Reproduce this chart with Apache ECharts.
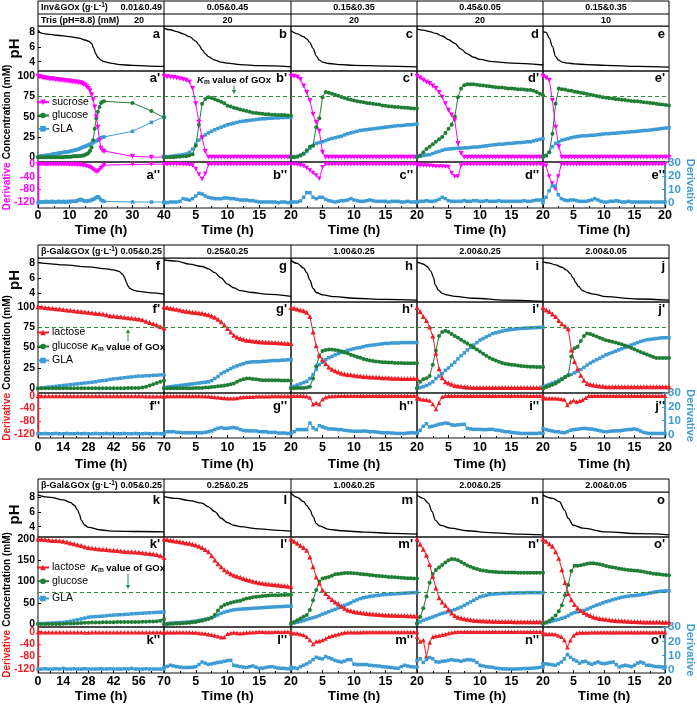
<!DOCTYPE html>
<html><head><meta charset="utf-8">
<script src="https://cdn.jsdelivr.net/npm/echarts@6/dist/echarts.min.js"></script>
<style>html,body{margin:0;padding:0;background:#fff}#c{width:697px;height:705px}</style>
</head><body><div id="c"></div>
<script>
// ---------- time grids ----------
const T20 = [0,0.5,1,1.5,2,2.5,3,3.5,4,4.5, 5,5.5,6,6.5,7,7.5,8,8.5,9,9.5, 10,10.5,11,11.5,12,12.5,13,13.5,14,14.5, 15,15.5,16,16.5,17,17.5,18,18.5,19,19.5, 20];
const TA = [0,0.5,1,1.5,2,2.5,3,3.5,4,4.5, 5,5.5,6,6.5,7,7.5,8,8.5,9,9.5, 10,10.5,11,11.5,12,12.5,13,13.5,14,14.5, 15,15.5,16,16.5,17,17.5,18,18.5,19,19.5, 20,20.5,21, 30,36,40];
const T70 = [0,2,4,6,8,10,12,14,16,18, 20,22,24,26,28,30,32,34,36,38, 40,42,44,46,48,50,52,54,56,58, 60,62,64,66,68,70];

// ---------- header texts ----------
const HDR1_LABEL = 'Inv&GOx (g·L{sup|-1})';
const HDR1_TRIS_LABEL = 'Tris (pH=8.8) (mM)';
const HDR1_ENZ = ['0.01&0.49','0.05&0.45','0.15&0.35','0.45&0.05','0.15&0.35'];
const HDR1_TRIS = ['20','20','20','20','10'];
const HDR23_LABEL = 'β-Gal&GOx (g·L{sup|-1})';
const HDR2_ENZ = ['0.05&0.25','0.25&0.25','1.00&0.25','2.00&0.25','2.00&0.05'];
const HDR3_ENZ = ['0.05&0.25','0.25&0.25','1.00&0.25','2.00&0.25','2.00&0.05'];
const LETTERS = [['a','b','c','d','e'],['f','g','h','i','j'],['k','l','m','n','o']];
const PH_TICKS = [4,6,8];
const CONC_TICKS_100 = [0,25,50,75,100];
const CONC_TICKS_200 = [0,50,100,150,200];
const DER_TICKS = [-120,-80,-40,0];
const DERR_TICKS = [0,10,20,30];
const KM_VALUE = 75;

// ---------- panel a ----------
const PH_A = [[0,8.3],[1,7.9],[3,7.75],[6,7.6],[10,7.4],[13,7.2],[15,6.95],[16,6.8],[17,6.5],[17.7,5.8],[18.3,5.1],[19,4.6],[20,4.2],[21,4.0],[23,3.8],[26,3.6],[30,3.5],[35,3.4],[40,3.35]];
const SUC_A = [100,99.5,99,98.5,98,98,97.5,97,97,96.5, 96.5,96,96,95.5,95.5,95,95,94.5,94.5,94, 94,93.5,93.5,93,93,92.5,92,92,91,90, 89,87,85,82,77,71,62,50,37,21, 11,8,7, 1,0,0];
const GLU_A = [0,0,0,0,0,0,0,0,0,0, 0,0,0,0,0,0,0,0.5,0.5,0.5, 0.5,0.5,1,1,1,1,1.5,1.5,2,2, 3,4,5,8,12,21,35,48,56,62, 67,68.5,69, 67,57,49];
const GLA_A = [0.5,1,1.5,1.5,2,2,2.5,3,3,3.5, 4,4,4.5,5,5,5.5,6,6,6.5,6.5, 7,7.5,8,8.5,9,9.5,10,11,12,12.5, 13.5,14,15,16,17,18,19,20,21,22.5, 24,24.5,25, 32,43,50];
const DSUC_A = [0,0,0,0,0,0,0,0,0,0, 0,0,0,0,0,0,0,0,0,0, -1,-1,-1,-1,-1,-2,-2,-2,-3,-4, -5,-6,-8,-10,-13,-17,-21,-24,-23,-18, -13,-8,-3, -1,0,0];
const DGLA_A = [0,0.5,0.5,0.5,0.5,1,0.5,0.5,0.5,1, 0.5,0.5,0.5,1,0.5,0.5,1,0.5,0.5,1, 0.5,1,1,1,1,1.5,2,2.5,2,1.5, 1,1,1.5,1.5,2,2.5,3,4,4.5,3.5, 2,1.5,1, 0.5,0.5,0.5];

// ---------- panel b ----------
const PH_B = [[0,8.55],[1,8.35],[2,8.1],[3,7.8],[4,7.4],[5,6.8],[5.5,6.3],[6,5.6],[6.5,5.1],[7,4.7],[8,4.2],[9,3.95],[10,3.8],[12,3.6],[15,3.45],[20,3.3]];
const SUC_B = [100,99.5,99,98.5,98,97,96,95,93,85, 66,43,24,7,0,0,0,0,0,0, 0,0,0,0,0,0,0,0,0,0, 0,0,0,0,0,0,0,0,0,0, 0];
const GLU_B = [0,0,0,0,0.5,0.5,1,1,2,3.5, 14,40,66,72,74,73,71.5,70,68.5,66.5, 63.5,62.5,61,60,59,58,57,56,55,54.5, 54,53.5,53,53,52.5,52.5,52,52,52,51.5, 51.5];
const GLA_B = [0,0.5,1,1.5,2,2.5,3,4,6,10, 16,21,25,27.5,30,32,34,35.5,37,38.5, 40,41,42,43,44,44.5,45,45.5,46,46.5, 47,47.5,47.5,48,48,48.5,48.5,49,49,49, 49.5];
const DSUC_B = [0,0,0,0,0,0,-1,-1,-2,-4, -15,-33,-48,-30,-2,0,0,0,0,0, 0,0,0,0,0,0,0,0,0,0, 0,0,0,0,0,0,0,0,0,0, 0];
const DGLA_B = [0,0,0.5,0.5,0.5,1,3,2.5,2,3, 5,7,6.5,5,4,3.5,3,3,3,3.5, 3.5,3,3,2.5,2,2,2,1.5,1.5,1, 0.5,0.5,0.5,0.5,0.5,0.5,0,0.5,0.5,0, 0];

// ---------- panel c ----------
const PH_C = [[0,8.2],[1,7.8],[2,7.4],[2.5,7.1],[3,6.6],[3.5,5.8],[4,4.8],[4.5,4.2],[5,3.95],[6,3.75],[8,3.6],[10,3.5],[15,3.4],[20,3.3]];
const SUC_C = [100,100,99,96,88,80,70,53,43,32, 6,0,0,0,0,0,0,0,0,0, 0,0,0,0,0,0,0,0,0,0, 0,0,0,0,0,0,0,0,0,0, 0];
const GLU_C = [0,0,0.5,2,4.5,8.5,13,14.5,37,48, 74,80.5,79.5,78.5,77,76,74.5,73,72,71, 70,69,68.5,68,67,66.5,66,65.5,65,64, 63.5,63,62.5,62,62,61.5,61,61,60.5,60, 60];
const GLA_C = [0,0.5,1,2.5,4,7,11,14,17,18, 19,20.5,22,23,24,25,26,27.5,29,30, 31,32,33,33.5,34,34.5,35,35.5,36,36.5, 37,37.5,38,38.5,39,39,39.5,40,40,40.5, 41];
const DSUC_C = [0,0,-1,-3,-6,-12,-20,-28,-36,-46, -10,0,0,0,0,0,0,0,0,0, 0,0,0,0,0,0,0,0,0,0, 0,0,0,0,0,0,0,0,0,0, 0];
const DGLA_C = [0.5,0.5,0.5,1.3,4,7.5,7.5,4,3,4, 4,2.5,1.5,1,0.5,1,1.5,1.5,2,3, 2,1.5,1,1,1.5,2,1.5,1,1,1, 1,0.5,1,1,1,0.5,0.5,1,0.5,0.5, 0.5];

// ---------- panel d ----------
const PH_D = [[0,8.45],[1,8.3],[2,8.1],[3,7.85],[4,7.5],[5,7.0],[6,6.5],[7,5.7],[8,5.05],[9,4.6],[10,4.3],[12,4.0],[15,3.8],[20,3.55]];
const SUC_D = [100,98,95,93,91,88,85,80,74,66, 58,52,46,17,4.5,0,0,0,0,0, 0,0,0,0,0,0,0,0,0,0, 0,0,0,0,0,0,0,0,0,0, 0];
const GLU_D = [0,2,6,10,13,16,19,22,25,30, 35,40,50,74,85,89,90,90,90,89.5, 89,88.5,88,87.5,87,86.5,86,86,85.5,85, 85,84.5,84,84,83.5,83,83,82,80.5,78.5, 76.5];
const GLA_D = [0.5,1,2,2.5,3,4.5,6,7,8.5,9.5, 10,10.5,10.7,11,11,11.5,11.5,12,12.5,12.5, 13,13.5,14,14.5,15,15.5,16,16,16.5,17, 17,17.5,18,18,18.5,19,19,20,21,22, 23];
const DSUC_D = [-4,-4,-4.5,-4.5,-5,-6,-7,-7,-7,-8, -9,-29,-39,-39,-4,0,0,0,0,0, 0,0,0,0,0,0,0,0,0,0, 0,0,0,0,0,0,0,0,0,0, 0];
const DGLA_D = [0.5,1,1,1.5,1,1,1.5,2.5,4,3, 1.5,1,1,1,1,1.5,1,1,1.5,1.5, 1,1,1.5,1,1,1,1.5,1,1,1, 1,1,1,1,1.5,1,1,1.5,2,2, 2];

// ---------- panel e ----------
const PH_E = [[0,8.1],[0.5,8.0],[1,7.2],[1.5,6.05],[2,4.7],[2.5,4.2],[3,3.95],[4,3.8],[5,3.7],[7,3.6],[10,3.5],[15,3.35],[20,3.25]];
const SUC_E = [100,98,95,70,37,13,0,0,0,0, 0,0,0,0,0,0,0,0,0,0, 0,0,0,0,0,0,0,0,0,0, 0,0,0,0,0,0,0,0,0,0, 0];
const GLU_E = [0.5,2,6,29,66,85,84,83.5,82.5,82, 81,80.5,79.5,79,78,77,76.5,75.5,75,74, 73.5,73,72.5,72,71.5,71,70.5,70,69.5,69, 69,68.5,68,67.5,67,66.5,66,65.5,65,64.5, 64];
const GLA_E = [0.5,2,6,13,17,19,21,22,23,24, 25,25.5,26,26.5,26.5,27,27,27.5,28,28.5, 29,29,29.5,29.5,30,30.5,30.5,31,31.5,31.5, 32,32.5,33,33,33.5,34,34.5,35,35.5,36, 36.5];
const DSUC_E = [-4,-5,-39,-61,-79,-39,0,0,0,0, 0,0,0,0,0,0,0,0,0,0, 0,0,0,0,0,0,0,0,0,0, 0,0,0,0,0,0,0,0,0,0, 0];
const DGLA_E = [0,4,9,12.5,12.5,6,3,2,1.5,2, 2,1.5,1,1,1,1.5,2,3,2,1, 0.5,0.5,1,1,1.5,1,0.5,0.5,1,0.5, 0.5,0.5,0.5,0.5,0.5,0.5,0.5,0.5,0.5,0.5, 0.5];

// ---------- panel f ----------
const PH_F = [[0,8.0],[7,7.85],[14,7.7],[28,7.45],[38,7.2],[42,7.05],[45,6.85],[47,6.5],[48,6.1],[49,5.5],[50,4.95],[51,4.65],[53,4.4],[56,4.25],[63,4.05],[70,3.9]];
const LAC_F = [100,99.5,99,98.5,98,97.5,97,96.5,96,95.5, 95,94.5,94,93.5,93,92.5,92,91.5,91,90, 89,88.5,88,87.5,87,86.5,86,85.5,85,84, 82,80.5,79,77.5,75.5,74];
const GLU_F = [0,0,0,0,0,0,0,0,0,0, 0,0,0,0,0,0,0,0,0,0, 0,0,0,0,0,0.5,0.5,0.5,0.5,1, 2,3.5,5,6.5,8,9.5];
const GLA_F = [0,0.5,1,1.5,2,2.5,3,3.5,4,4.5, 5,5.5,6,6.5,7,7.5,8,9,9.5,10, 11,11.5,12,12.5,13,13.5,14,14.5,15,15, 15.5,15.5,16,16,16.5,16.5];
const DLAC_F = [-1,-1,-1,-1,-1,-1,-1,-1,-1,-1, -1,-1,-1,-1,-1,-1,-1,-1,-1,-1, -1,-1,-1,-1,-1,-1,-1,-1,-1,-1, -1.5,-1.5,-1.5,-2,-2,-2];
const DGLA_F = [0.5,0.5,0.7,0.5,0.5,0.7,0.5,0.5,0.7,0.5, 0.5,0.7,0.5,0.7,0.5,0.5,0.7,0.5,0.5,0.7, 0.5,0.7,0.5,0.5,0.7,0.5,0.5,0.7,0.5,0.5, 0.7,0.5,0.5,0.7,0.5,0.5];

// ---------- panel g ----------
const PH_G = [[0,8.35],[2,8.2],[4,7.8],[6,7.5],[7,7.2],[8,6.7],[9,6.0],[10,5.2],[11,4.7],[12,4.35],[14,4.1],[16,3.9],[20,3.6]];
const LAC_G = [100,99,98,97.5,96.7,96,95,94.5,93.8,93.3, 92.8,92.3,91.8,91,90,88.5,87,84.5,81.5,77.5, 73.4,69,65,63,61,60,59,58.5,58,57.5, 57,56.8,56.5,56.3,56,56,55.8,55.5,55.3,55, 55];
const GLU_G = [0,0,0,0,0,0,0,0,0,0, 0.5,0.5,0.5,1,1,1.5,2,2.5,3,3.5, 4,5,6,8,10,11,12,12,11.5,11, 10.5,10,10,10,10,10,10,9.5,9.5,9.5, 9.5];
const GLA_G = [0.5,1.5,2,2.5,3,3.5,4,4.5,5,5.5, 6,6.5,7,7.5,8,9.5,12,14.5,18,20, 22,24,26,27.5,29,30,31.5,32,32.5,32.5, 32.5,33,33,33.5,34,34,34,34.5,34.5,35, 35];
const DLAC_G = [-1,-1,-1,-1,-1,-1,-1,-1,-1,-1, -1,-1,-1,-2,-2,-3,-4,-5,-6,-7, -8,-8,-8,-7,-5,-4,-3,-3,-3,-2, -2,-2,-2,-2,-1,-1,-1,-1,-1,-1, -1];
const DGLA_G = [0.7,2,2,2,1.5,1.5,1.2,1.2,1.2,1.2, 1.2,1.2,1.2,1.5,2,2.5,3.6,4.5,5,4.5, 4.4,4.8,5,4.5,3.6,3,2.6,2.6,2.6,2.5, 2,2,2,1.5,1.5,1.5,1,1,1,0.7, 0.7];

// ---------- panel h ----------
const PH_H = [[0,8.3],[1,7.9],[2,7.3],[2.5,6.7],[3,5.7],[3.5,4.65],[4,4.1],[5,3.8],[7,3.55],[10,3.35],[15,3.2],[20,3.1]];
const LAC_H = [99,98,97,96,95,93,88,69,52,40, 35,30,26,23.5,21.5,20,18.5,17.5,17,16.5, 16,15.5,15,14.5,14.5,14,14,13.5,13.5,13, 13,13,12.5,12.5,12.5,12,12,12,12,12, 12];
const GLU_H = [0,0,0.5,0.5,0.5,1,2,12,27,40, 45.7,47,47.7,47.5,47,46.3,45.5,44,43,41, 40,38.5,37.5,36,35,34,33.5,33,32.5,32, 32,31.5,31.5,31,31,31,30.8,30.8,30.6,30.6, 30.6];
const GLA_H = [1,2.5,4,5.5,7,8.5,12,17,23,29, 32,35,37.5,39,41,42.5,44,45,46.5,47.5, 48.5,49.5,50,51,52,52.5,53,53.5,54,54.5, 55,55,55.5,55.5,55.5,56,56,56,56,56, 56];
const DLAC_H = [0,0,0,-0.5,-1,-2,-5.5,-27,-22,-27, -11,-5,-2,-1,-1,-0.5,-0.5,0,0,0, 0,0,0,0,0,0,0,0,0,0, 0,0,0,0,0,0,0,0,0,0, 0];
const DGLA_H = [1.2,2,3.5,3.5,3.5,3.5,8.3,4.8,3.5,6.4, 5.5,4.8,4,4,3.8,3.5,3.5,3,2.8,2.5, 2.3,2.3,2.3,2.5,2.3,2,2,1.8,1.5,1.2, 1.2,1.2,1,0.8,0.7,0.7,0.7,1,1.2,1.2, 1.2];

// ---------- panel i ----------
const PH_I = [[0,8.1],[0.5,7.95],[1,7.8],[1.6,7.5],[2.2,6.9],[2.6,6.1],[2.9,5.1],[3.4,4.4],[4,4.0],[4.7,3.8],[6,3.6],[9,3.35],[14,3.1],[20,2.95]];
const LAC_I = [99,94,88,83,75,64,43,24,13,8, 6.5,5,3.5,3,2.5,2,1.5,1.2,1,1, 1,1,1,1,1,1,1,1,1,1, 1,1,1,1,1,1,1,1,1,1, 1];
const GLU_I = [0,8,11,12.5,15,29,46,64,69,70.6, 69,66.5,64,62,59.5,57,55,52.5,50,47.5, 45,42.5,40,37.5,35.5,34,32.5,31,30,29.5, 29,28.5,28,27.5,27,26.8,26.5,26.3,26,26, 26];
const GLA_I = [0,1,2,3.5,5.5,8,12,15,18,22, 25,28.5,32,36,40,43.5,47,50,53,56, 59,61,63,65,67,68,69,70,71,71.5, 72,72.5,73,73.3,73.5,73.8,74,74.2,74.4,74.6, 74.7];
const DLAC_I = [-8,-10,-12,-13,-15,-26,-42,-22,-3,0, 0,0,0,0,0,0,0,0,0,0, 0,0,0,0,0,0,0,0,0,0, 0,0,0,0,0,0,0,0,0,0, 0];
const DGLA_I = [0.7,3,6,7.8,5.5,6,6.7,7.5,7.8,8.3, 8,7,6.7,7,7.3,7.3,4.4,4,3.7,3.7, 3.7,3.5,3.5,3.7,3.7,3.2,3,2.5,2,2, 1.5,1.2,1,0.7,0.7,0.7,0.7,0.7,0.7,1, 0.7];

// ---------- panel j ----------
const PH_J = [[0,8.1],[1,7.95],[2,7.7],[3,7.4],[3.7,7.05],[4.3,6.6],[4.8,6.0],[5.2,5.4],[5.6,4.9],[6.3,4.35],[7,4.1],[8,3.9],[10,3.55],[15,3.25],[20,3.1]];
const LAC_J = [99,96,94,91,88,83,79,76,73,47, 33,24,16,10,6,5,4,3.5,3,2.5, 2,2,2,2,2,2,2,2,2,2, 2,2,2,2,2,2,2,2,2,2, 2];
const GLU_J = [0,1.5,3,4.5,6,8.5,11,13.5,16,39, 49,51,58,64,67,66.5,65,63.5,62,60.5, 59,58,57,56,55,54,52.5,51,49.5,48, 46,44.5,43,41.5,40,38.5,37,37,37,37, 37];
const GLA_J = [2,3.5,5,6.5,8,10,12,14,16,17, 19,21,23,25.5,28.5,31,33,35,37,39, 41,42.5,44,45.5,47,48.5,50,51.5,53,54.5, 56,57.5,58.5,59.5,60,60.5,61,61.5,62,62, 62];
const DLAC_J = [-8,-8,-8,-8,-8,-9,-10,-12,-29,-20, -14,-19,-16,-13,-6,0,0,0,0,0, 0,0,0,0,0,0,0,0,0,0, 0,0,0,0,0,0,0,0,0,0, 0];
const DGLA_J = [4.3,3.5,3,2.5,2,2,1.5,1.2,2,3, 3.5,3.7,4,4.4,4.4,4,3.9,3.5,3,2.5, 2,2,2.3,2.6,2.6,2.6,3,3.3,3.6,3.6, 4,3.5,2.5,1.5,1,0.7,0.7,0.7,0.7,0.7, 0.7];

// ---------- panel k ----------
const PH_K = [[0,8.3],[7,8.0],[14,7.65],[18,7.3],[20,6.95],[22,6.3],[23,5.7],[24,4.9],[26,4.2],[28,3.9],[35,3.55],[42,3.4],[56,3.35],[70,3.3]];
const LAC_K = [200,199.5,199,198,197,196.5,196,195,193,191, 189,187,185,182,180,179,178,177,176,175.5, 174.5,174,173,172,171,170.5,170,169.5,169,168, 167,166,165,164,161,157];
const GLU_K = [0,0,0,0,0,0,0,0.5,1,1, 1.5,2,2.5,3,3,3.5,3.5,3.5,4,4, 4,4,4.5,4.5,4.5,5,5,5,5,5.5, 5.5,6,6,6.5,8,11];
const GLA_K = [0.5,1,1.5,2,2.5,3,3.5,4,5,6.5, 8.5,10,12,14,16,17,17.5,18,18.5,19.5, 20.5,21,21.5,22,22.5,23,24,24.5,25,25.5, 26,26.5,27,27.5,28,28];
const DLAC_K = [-2,-2,-2,-2,-2,-2,-2,-2,-2,-2, -2,-2,-2,-2.5,-2.5,-2,-2,-2,-2,-2, -2,-2,-2,-2,-2,-2,-2,-2,-2,-2, -2,-2,-2,-2,-2,-2.5];
const DGLA_K = [0.3,0.3,0.5,0.3,0.3,0.5,0.3,0.8,0.3,0.3, 0.5,0.3,0.3,0.5,0.3,0.3,0.3,0.5,0.3,0.3, 0.5,0.3,0.3,0.3,0.5,0.3,0.8,0.3,0.3,0.3, 0.5,0.3,0.3,0.3,0.3,0.3];

// ---------- panel l ----------
const PH_L = [[0,8.1],[2,7.85],[4,7.55],[6,7.2],[7,6.7],[8,6.05],[9,5.15],[10,4.55],[11,4.2],[12,4.0],[15,3.7],[18,3.5],[20,3.4]];
const LAC_L = [200,199,197.5,196,195,194,192.5,191,190,188, 186,183,180,175.5,170,161,150.6,142,135,128, 123,118.5,115,112.5,110,107.5,105,103,101,99, 97,96,95,94,93,92.5,92,91,90,89, 88];
const GLU_L = [0,0,0.5,0.5,1,1.5,2,2.5,3,4, 5,6.5,8,10,12,15,22,32,40,45, 48,50,52,53.5,55,57.5,60,61.5,63,64, 65,66,66.5,67,67.5,68,68,68.5,68.5,69, 69];
const GLA_L = [0,1,2,2.5,3,3.5,4,4.5,5,6, 7,8.5,10,11.5,13,15.5,18,21.5,25,28, 30,32,33.5,34.5,35,35.5,36,36.5,37,37.5, 38,38.5,39,39.5,40,40.5,41,41,41.5,42, 42];
const DLAC_L = [-2,-2,-2,-2,-2,-2,-2,-2,-2,-3, -3,-4,-5,-6,-8,-10,-12,-15,-18,-17, -7,-4,-3,-4,-5,-4,-3,-2,-2,-1, 0,-0.5,-1,-1,-1,-0.5,-0.5,-1,-0.5,-0.5, -0.5];
const DGLA_L = [1.4,2.2,3,2.5,2,1.7,1.4,1.4,1.4,1.6, 2,3.5,5.3,4.5,3.6,4,4.5,5,5.3,5.8, 6.4,6.5,3,2.5,2,1.7,1.4,2,2.5,1.6, 0.8,1,1.4,1.8,2,1.5,1,0.8,0.8,0.5, 0.3];

// ---------- panel m ----------
const PH_M = [[0,8.55],[1,8.0],[2,7.4],[2.5,6.9],[3,6.3],[3.5,5.4],[4,4.45],[4.5,4.1],[6,3.65],[8,3.45],[12,3.25],[16,3.1],[20,3.0]];
const LAC_M = [200,195,190,185,180,174,158,135,111,96, 80,72,64,58,52,48,42,37,33,31, 29.5,28,27,26,25,24,23.5,23,22.5,22, 21.5,21,20.8,20.5,20.2,20,19.8,19.5,19.3,19, 19];
const GLU_M = [0.8,5,9,13,17,21,33,56,80,100, 107,109,111,114,117,118,119,120,120,120, 119.5,119,118,117,116.5,115.5,115,114,113,112.5, 112,111,110.5,110,109.5,109,108.5,108,108,107.5, 107.5];
const GLA_M = [1,2.5,4,6,8,10.5,13,15,17,20, 23.5,26,29,32,34.5,38,41,44,47,50, 54,57,60,62,63.5,65,66,67,68,69, 69.5,70,70.5,71,71.5,72,72.5,73,73.5,74, 74];
const DLAC_M = [-5,-5,-5,-8,-11,-16,-27,-40,-32,-30, -27,-22,-16,-13,-11,-8,-5,-3,-2,-2, -2,-2,-2,-1,-1,-1,-1,-1,-1,-1, -1,-1,-1,-1,-1,-1,-1,-1,-1,-1, -1];
const DGLA_M = [1.8,1.2,0.7,2,3,4,5.3,7,8.7,8, 7.5,9.2,8.3,7.5,6.4,5.8,5.3,6,7,7, 3.8,3.5,3.5,3.5,3.5,3,2.8,2.6,2.4,2, 1.8,1.6,1.4,1,0.9,2,3,2.5,2,1.8, 1.8];

// ---------- panel n ----------
const PH_N = [[0,8.3],[1,7.85],[1.8,7.2],[2.4,6.05],[2.9,4.9],[3.7,4.2],[5.3,3.8],[7.9,3.45],[11.6,3.2],[16,3.0],[20,2.9]];
const LAC_N = [200,188,176,162,140,112,85,62,52,44, 34,26,20,16,14,12.5,11,10,9,8.5, 8,7.5,7,7,6.5,6.5,6,6,6,6, 6,5.5,5.5,5.5,5.5,5.5,5.5,5.5,5.5,5.5, 5.5];
const GLU_N = [1,17,37,65,97,118,127,133,139,145, 150,153,152.5,150,146,142,138,135,132,129.5, 127,126,125,124,123,122.5,122,122,121.6,121.5, 121.5,121.5,121,121,121,121,121,121,121,121, 121];
const GLA_N = [1,5,9,11.5,14,16.5,19.5,22.5,25,27, 29,31.5,34,37,40,44,48,52,56,60, 64,66,68,69.5,70.5,71,71.5,72,72,72.5, 73,73,73.5,73.5,73.5,74,74,74,74,74, 74];
const DLAC_N = [-16,-32,-27,-80,-35,-16,-14,-12,-10,-8, -5,-3,-1,0,0,0,0,0,0,0, 0,0,0,0,0,0,0,0,0,0, 0,0,0,0,0,0,0,0,0,0, 0];
const DGLA_N = [6.4,7.6,5,7,8.5,7.6,5.5,5.3,5.8,6, 6.5,7,6.5,6.4,5.8,6.5,7,6.8,6.4,5, 3,2.5,2,1.8,1.5,1,0.7,0.5,0.4,0.3, 0.3,0.3,0.4,0.5,0.7,0.7,0.8,1,1.2,1.5, 1.8];

// ---------- panel o ----------
const PH_O = [[0,8.3],[1.6,7.85],[2.6,7.4],[3.4,6.3],[4,5.15],[4.8,4.2],[6.3,3.8],[10,3.3],[15.3,3.05],[20,2.9]];
const LAC_O = [200,195,189,183,170,155,128,98,72,57, 46,38,32,27,23,20,16.5,14.5,13,12, 11,10,9,8.5,8,7.5,7,6.5,6,6, 5.5,5.5,5,5,5,4.5,4.5,4.5,4,4, 4];
const GLU_O = [1,4,8,13,20,30,44,68,92,125, 137,137.5,138.5,140,142,143,143,142,141,139, 136.5,135,134,132.5,131,129.5,128.5,127.5,126.5,126, 125.5,124.5,123,121.5,120,118.5,117.6,117,116,115.5, 115];
const GLA_O = [1,3,5,7,9,11,13.5,16,19.5,24, 27,28.5,30,32,35,38,41.5,44.5,47,50, 52.5,54.5,57,59,61,63,64.5,65.5,66.5,67, 68,69,70,71.5,73,74.5,76,77,77.5,78, 78];
const DLAC_O = [-7.5,-7.5,-7.5,-7.5,-8,-12,-16,-27,-50,-28, -12,-5,-3,-3,-3,-2.5,-2,-2,-2,-2, -1.5,-1.5,-1.5,-1.5,-1.5,-1.5,-1.5,-1.5,-1.5,-1.5, -1.5,-1.5,-1.5,-1.5,-1.5,-1.5,-1.5,-1.5,-1.5,-1.5, -1.5];
const DGLA_O = [4.1,4,3.7,3.3,3,4,5.3,7.5,10.6,8.7, 7,6,4.5,5.5,5.8,4.5,3.7,4.5,5.3,4.5, 4.1,4.5,5,5.3,3.5,1.8,2.5,3,2.5,2, 3,4.5,5.3,4.5,3,3,2.5,2,2,1.8, 1.8];

// ---------- assembly ----------
const PANELS = [
 [ {t:TA,max:40,step:10,ph:PH_A,sub:SUC_A,glu:GLU_A,gla:GLA_A,dSub:DSUC_A,dGla:DGLA_A},
   {t:T20,max:20,step:5,ph:PH_B,sub:SUC_B,glu:GLU_B,gla:GLA_B,dSub:DSUC_B,dGla:DGLA_B},
   {t:T20,max:20,step:5,ph:PH_C,sub:SUC_C,glu:GLU_C,gla:GLA_C,dSub:DSUC_C,dGla:DGLA_C},
   {t:T20,max:20,step:5,ph:PH_D,sub:SUC_D,glu:GLU_D,gla:GLA_D,dSub:DSUC_D,dGla:DGLA_D},
   {t:T20,max:20,step:5,ph:PH_E,sub:SUC_E,glu:GLU_E,gla:GLA_E,dSub:DSUC_E,dGla:DGLA_E} ],
 [ {t:T70,max:70,step:14,ph:PH_F,sub:LAC_F,glu:GLU_F,gla:GLA_F,dSub:DLAC_F,dGla:DGLA_F},
   {t:T20,max:20,step:5,ph:PH_G,sub:LAC_G,glu:GLU_G,gla:GLA_G,dSub:DLAC_G,dGla:DGLA_G},
   {t:T20,max:20,step:5,ph:PH_H,sub:LAC_H,glu:GLU_H,gla:GLA_H,dSub:DLAC_H,dGla:DGLA_H},
   {t:T20,max:20,step:5,ph:PH_I,sub:LAC_I,glu:GLU_I,gla:GLA_I,dSub:DLAC_I,dGla:DGLA_I},
   {t:T20,max:20,step:5,ph:PH_J,sub:LAC_J,glu:GLU_J,gla:GLA_J,dSub:DLAC_J,dGla:DGLA_J} ],
 [ {t:T70,max:70,step:14,ph:PH_K,sub:LAC_K,glu:GLU_K,gla:GLA_K,dSub:DLAC_K,dGla:DGLA_K},
   {t:T20,max:20,step:5,ph:PH_L,sub:LAC_L,glu:GLU_L,gla:GLA_L,dSub:DLAC_L,dGla:DGLA_L},
   {t:T20,max:20,step:5,ph:PH_M,sub:LAC_M,glu:GLU_M,gla:GLA_M,dSub:DLAC_M,dGla:DGLA_M},
   {t:T20,max:20,step:5,ph:PH_N,sub:LAC_N,glu:GLU_N,gla:GLA_N,dSub:DLAC_N,dGla:DGLA_N},
   {t:T20,max:20,step:5,ph:PH_O,sub:LAC_O,glu:GLU_O,gla:GLA_O,dSub:DLAC_O,dGla:DGLA_O} ]
];

const FONT = '"Liberation Sans", Arial, Helvetica, sans-serif';
const C_SUC = '#ff00ff', C_LAC = '#ee1c24', C_GLU = '#1f7d34', C_GLA = '#3d9bd4', C_KM = '#2e8b3e';
const COLS = [[38,164],[164,291],[291,417],[417,543],[543,669]];
const BLOCKS = [
 {hdr:[[1,14],[14,26]], ph:[26,71], conc:[71,162], der:[162,208], phR:[2.73,8.86], concR:[-6,106.5], concTicks:CONC_TICKS_100, derL:[-139,7], derR:[-4,30.5], subName:'sucrose', subColor:C_SUC, subSym:'triangle', subRot:180, lm:1, ng:15, titleY:137.5,
  legendY:[102.7,116,129.3], km:{x:234,y:80,a0:85.5,a1:94}},
 {hdr:[[245,258]], ph:[258,302], conc:[302,393], der:[393,438], phR:[2.86,8.61], concR:[-5.7,105.7], concTicks:CONC_TICKS_100, derL:[-132.5,8.5], derR:[-2.6,30.2], subName:'lactose', subColor:C_LAC, subSym:'triangle', subRot:0, lm:3, ng:19, titleY:368,
  legendY:[333,347,361], km:{x:128,y:347,a0:341,a1:329}},
 {hdr:[[479,492]], ph:[492,537], conc:[537,627], der:[627,673], phR:[2.6,8.72], concR:[-7,205], concTicks:CONC_TICKS_200, derL:[-133,15], derR:[-2.5,30.2], subName:'lactose', subColor:C_LAC, subSym:'triangle', subRot:0, lm:2, ng:16, titleY:605,
  legendY:[568,581.7,599], km:{x:128,y:568,a0:574,a1:589}}
];

function zip(t, v){ return v.map((y,i)=>[t[i], y]); }
const grid=[], xAxis=[], yAxis=[], series=[], graphic=[], legend=[];
function addGrid(x0,w,top,bot){ grid.push({left:x0, top:top, width:w, height:bot-top, show:true, borderColor:'#111', borderWidth:1}); return grid.length-1; }
function hiddenX(gi,max){ return {type:'value', gridIndex:gi, min:0, max:max, show:false}; }
function leftY(gi,r,ticks,first,color,isDer){
  return {type:'value', gridIndex:gi, min:r[0], max:r[1], position:'left',
    axisLine:{show:first && isDer, onZero:false, lineStyle:{color:color, width:1.3}},
    splitLine:{show:false},
    axisTick:{show:first, inside:true, length:3, customValues:ticks, lineStyle:{color:color}},
    axisLabel:{show:first, customValues:ticks, fontSize:10.5, fontWeight:'bold', color:color, margin:3, fontFamily:FONT}};
}
function mk(name, data, color, sym, rot, size, xi, yi){
  return {type:'line', name:name, data:data, xAxisIndex:xi, yAxisIndex:yi, symbol:sym, symbolSize:size, symbolRotate:rot,
    showSymbol:true, lineStyle:{width:1, color:color}, itemStyle:{color:color}, animation:false, silent:true, z:3};
}

BLOCKS.forEach((B,bi)=>{
  PANELS[bi].forEach((p,ci)=>{
    const x0=COLS[ci][0], w=COLS[ci][1]-COLS[ci][0], first=ci===0, last=ci===4;
    // pH
    let gi=addGrid(x0,w,B.ph[0],B.ph[1]);
    xAxis.push(hiddenX(gi,p.max));
    yAxis.push(leftY(gi,B.phR,PH_TICKS,first,'#000',false));
    series.push({type:'line', xAxisIndex:gi, yAxisIndex:yAxis.length-1, data:p.ph, smooth:0.35, smoothMonotone:'x', symbol:'none', showSymbol:false, lineStyle:{color:'#000', width:1.3}, silent:true, animation:false});
    // concentration
    gi=addGrid(x0,w,B.conc[0],B.conc[1]);
    xAxis.push(hiddenX(gi,p.max));
    yAxis.push(leftY(gi,B.concR,B.concTicks,first,'#000',false));
    let yi=yAxis.length-1;
    series.push(mk('GLA', zip(p.t,p.gla), C_GLA, 'rect', 0, 3.5, gi, yi));
    const gs = mk('glucose', zip(p.t,p.glu), C_GLU, 'circle', 0, 4, gi, yi);
    gs.markLine = {silent:true, symbol:'none', animation:false, label:{show:false}, lineStyle:{color:C_KM, type:[4,3], width:1.1}, data:[{yAxis:KM_VALUE}]};
    series.push(gs);
    series.push(mk(B.subName, zip(p.t,p.sub), B.subColor, B.subSym, B.subRot, 5, gi, yi));
    // derivative
    gi=addGrid(x0,w,B.der[0],B.der[1]);
    xAxis.push({type:'value', gridIndex:gi, min:0, max:p.max, interval:p.step,
      axisLine:{show:false, onZero:false},
      axisTick:{show:true, inside:true, length:3, lineStyle:{color:'#000'}},
      minorTick:{show:true, splitNumber:2, length:2, lineStyle:{color:'#000'}},
      splitLine:{show:false},
      axisLabel:{showMinLabel:first, showMaxLabel:true, fontSize:12.5, fontWeight:'bold', color:'#000', margin:B.lm, fontFamily:FONT},
      name:'Time (h)', nameLocation:'middle', nameGap:B.ng, nameTextStyle:{fontSize:13.5, fontWeight:'bold', color:'#000', fontFamily:FONT}});
    yAxis.push(leftY(gi,B.derL,DER_TICKS,first,B.subColor,true));
    const yl=yAxis.length-1;
    yAxis.push({type:'value', gridIndex:gi, min:B.derR[0], max:B.derR[1], position:'right',
      axisLine:{show:last, onZero:false, lineStyle:{color:C_GLA, width:1.3}},
      splitLine:{show:false},
      axisTick:{show:last, inside:true, length:3, customValues:DERR_TICKS, lineStyle:{color:C_GLA}},
      axisLabel:{show:last, customValues:DERR_TICKS, fontSize:11.5, fontWeight:'bold', color:C_GLA, margin:3, fontFamily:FONT},
      name:last?'Derivative':'', nameLocation:'middle', nameRotate:-90, nameGap:20, nameTextStyle:{color:C_GLA, fontSize:11, fontWeight:'bold', fontFamily:FONT}});
    const yr=yAxis.length-1;
    series.push(mk(B.subName+' derivative', zip(p.t,p.dSub), B.subColor, B.subSym, B.subRot, 4.5, gi, yl));
    series.push(mk('GLA derivative', zip(p.t,p.dGla), C_GLA, 'rect', 0, 3.5, gi, yr));
    // panel letters
    const L=LETTERS[bi][ci];
    [[L,B.ph[0]+8],[L+"'",B.conc[0]+7],[L+"''",B.der[0]+13]].forEach(([txt,y])=>{
      graphic.push({type:'text', x:COLS[ci][1]-4, y:y, z:50, style:{text:txt, fill:'#000', fontSize:13, fontWeight:'bold', fontFamily:FONT, align:'right', verticalAlign:'middle'}});
    });
  });

  // header table
  const top=B.hdr[0][0], bot=B.hdr[B.hdr.length-1][1];
  graphic.push({type:'rect', z:40, shape:{x:38, y:top, width:631, height:bot-top}, style:{fill:'#fff', stroke:'#000', lineWidth:1}});
  B.hdr.slice(1).forEach(r=>graphic.push({type:'line', z:41, shape:{x1:38,y1:r[0],x2:669,y2:r[0]}, style:{stroke:'#000', lineWidth:1}}));
  COLS.slice(1).forEach(c=>graphic.push({type:'line', z:41, shape:{x1:c[0],y1:top,x2:c[0],y2:bot}, style:{stroke:'#000', lineWidth:1}}));
  const htxt=(text,x,y,align)=>graphic.push({type:'text', z:42, x:x, y:y, style:{text:text, fill:'#000', fontSize:9, fontWeight:'bold', fontFamily:FONT, align:align, verticalAlign:'middle',
    rich:{sup:{fill:'#000', fontSize:6.5, fontWeight:'bold', fontFamily:FONT, padding:[0,0,5,0]}}}});
  const enz = bi===0?HDR1_ENZ:(bi===1?HDR2_ENZ:HDR3_ENZ);
  const r0y=(B.hdr[0][0]+B.hdr[0][1])/2+0.5;
  htxt(bi===0?HDR1_LABEL:HDR23_LABEL, 41, r0y, 'left');
  enz.forEach((v,ci)=>{ if(ci===0) htxt(v,162,r0y,'right'); else htxt(v,(COLS[ci][0]+COLS[ci][1])/2,r0y,'center'); });
  if(bi===0){
    const r1y=(B.hdr[1][0]+B.hdr[1][1])/2+0.5;
    htxt(HDR1_TRIS_LABEL, 41, r1y, 'left');
    HDR1_TRIS.forEach((v,ci)=>{ htxt(v, ci===0?139:(COLS[ci][0]+COLS[ci][1])/2, r1y, 'center'); });
  }

  // axis titles
  graphic.push({type:'text', z:42, x:15, y:(B.ph[0]+B.ph[1])/2, rotation:Math.PI/2, style:{text:'pH', fill:'#000', fontSize:15, fontWeight:'bold', fontFamily:FONT, align:'center', verticalAlign:'middle'}});
  graphic.push({type:'text', z:42, x:7, y:B.titleY, rotation:Math.PI/2, style:{text:'{d|Derivative} {c|Concentration (mM)}', align:'center', verticalAlign:'middle',
    rich:{d:{fill:B.subColor, fontSize:10, fontWeight:'bold', fontFamily:FONT}, c:{fill:'#000', fontSize:10, fontWeight:'bold', fontFamily:FONT}}}});

  // Km annotation
  const K=B.km;
  graphic.push({type:'text', z:42, x:K.x, y:K.y, style:{text:'{k|K}{s|m}{n| value of GOx}', align:'center', verticalAlign:'middle',
    rich:{k:{fill:'#000', fontSize:9.5, fontWeight:'bold', fontStyle:'italic', fontFamily:FONT}, s:{fill:'#000', fontSize:6.5, fontWeight:'bold', fontFamily:FONT, padding:[5,0,0,0]}, n:{fill:'#000', fontSize:9.5, fontWeight:'bold', fontFamily:FONT}}}});
  const dir = K.a1>K.a0 ? 1 : -1;
  graphic.push({type:'line', z:42, shape:{x1:K.x, y1:K.a0, x2:K.x, y2:K.a1-dir*3}, style:{stroke:C_KM, lineWidth:1}});
  graphic.push({type:'polygon', z:42, shape:{points:[[K.x-2.2,K.a1-dir*4],[K.x+2.2,K.a1-dir*4],[K.x,K.a1]]}, style:{fill:C_KM}});

  // legend
  [B.subName,'glucose','GLA'].forEach((nm,k)=>{
    legend.push({data:[nm], left:36, top:B.legendY[k]-6, orient:'vertical', padding:0, itemWidth:12, itemHeight:7, itemGap:0, selectedMode:false,
      textStyle:{fontSize:10.5, color:'#000', fontFamily:FONT, padding:[0,0,0,-2]}});
  });
});

const chart = echarts.init(document.getElementById('c'), null, {renderer:'canvas'});
chart.setOption({backgroundColor:'#fff', animation:false, grid:grid, xAxis:xAxis, yAxis:yAxis, series:series, legend:legend, graphic:graphic});
</script></body></html>
